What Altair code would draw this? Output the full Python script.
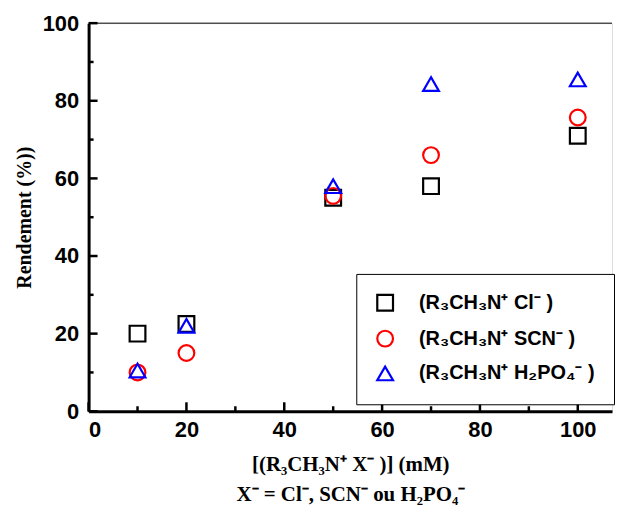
import altair as alt
import pandas as pd

# data
conc = [10, 20, 50, 70, 100]
cl = [20, 22.5, 55, 58, 71]
scn = [10, 15, 55.5, 66, 75.7]
h2po4 = [10.5, 22, 58, 84.3, 85.5]

series = ["(R₃CH₃N⁺ Cl⁻ )", "(R₃CH₃N⁺ SCN⁻ )", "(R₃CH₃N⁺ H₂PO₄⁻ )"]
shapes = ["square", "circle", "triangle-up"]
colors = ["black", "red", "blue"]

x_major = [0, 20, 40, 60, 80, 100]
x_minor = [10, 30, 50, 70, 90]
y_major = [0, 20, 40, 60, 80, 100]
y_minor = [10, 30, 50, 70, 90]

rows = []
for name, vals in zip(series, [cl, scn, h2po4]):
    for c, v in zip(conc, vals):
        rows.append({"conc": c, "rend": v, "serie": name})
df = pd.DataFrame(rows)

W, H = 526, 390
xscale = alt.Scale(domain=[0, 107], nice=False, zero=False)
yscale = alt.Scale(domain=[0, 100], nice=False)

points = alt.Chart(df).mark_point(filled=False, size=250, strokeWidth=2.2, opacity=1).encode(
    x=alt.X("conc:Q", scale=xscale,
            axis=alt.Axis(values=x_major, ticks=False, grid=False, domainWidth=3, domainColor="black",
                          labelFont="Liberation Sans", labelFontWeight="bold", labelFontSize=22,
                          labelColor="black", labelPadding=8,
                          title=["[(R₃CH₃N⁺ X⁻ )] (mM)", "X⁻ = Cl⁻, SCN⁻ ou H₂PO₄⁻"],
                          titleFont="Liberation Serif", titleFontWeight="bold", titleFontSize=21,
                          titleColor="black", titlePadding=14, titleLineHeight=30)),
    y=alt.Y("rend:Q", scale=yscale,
            axis=alt.Axis(values=y_major, ticks=False, grid=False, domainWidth=3, domainColor="black",
                          labelFont="Liberation Sans", labelFontWeight="bold", labelFontSize=22,
                          labelColor="black", labelPadding=10,
                          title="Rendement (%))",
                          titleFont="Liberation Serif", titleFontWeight="bold", titleFontSize=20,
                          titleColor="black", titlePadding=8)),
    shape=alt.Shape("serie:N", scale=alt.Scale(domain=series, range=shapes)),
    color=alt.Color("serie:N", scale=alt.Scale(domain=series, range=colors),
                    legend=alt.Legend(title=None, orient="none", legendX=269, legendY=252,
                                      labelFont="Liberation Sans", labelFontWeight="bold",
                                      labelFontSize=20, labelColor="black", labelOffset=24,
                                      labelLimit=400,
                                      symbolSize=250, symbolStrokeWidth=2.2, symbolType="square",
                                      padding=19, rowPadding=10,
                                      strokeColor="black", fillColor="white")),
)

xmaj = alt.Chart(pd.DataFrame({"t": x_major})).mark_rule(color="black", strokeWidth=2.5).encode(
    x=alt.X("t:Q", scale=xscale), y=alt.value(H), y2=alt.value(H - 9))
xmin = alt.Chart(pd.DataFrame({"t": x_minor})).mark_rule(color="black", strokeWidth=2.5).encode(
    x=alt.X("t:Q", scale=xscale), y=alt.value(H), y2=alt.value(H - 5))
ymaj = alt.Chart(pd.DataFrame({"t": y_major})).mark_rule(color="black", strokeWidth=2.5).encode(
    y=alt.Y("t:Q", scale=yscale), x=alt.value(0), x2=alt.value(9))
ymin = alt.Chart(pd.DataFrame({"t": y_minor})).mark_rule(color="black", strokeWidth=2.5).encode(
    y=alt.Y("t:Q", scale=yscale), x=alt.value(0), x2=alt.value(5))
top = alt.Chart(pd.DataFrame({"t": [100]})).mark_rule(color="black", strokeWidth=1).encode(
    y=alt.Y("t:Q", scale=yscale), x=alt.value(0), x2=alt.value(W))

chart = alt.layer(top, xmaj, xmin, ymaj, ymin, points).properties(
    width=W, height=H,
    padding={"left": 6, "top": 3, "right": 0, "bottom": 3},
).configure_view(strokeWidth=0).configure(background="white")

chart.save("out.html", embed_options={"renderer": "svg", "actions": False})
